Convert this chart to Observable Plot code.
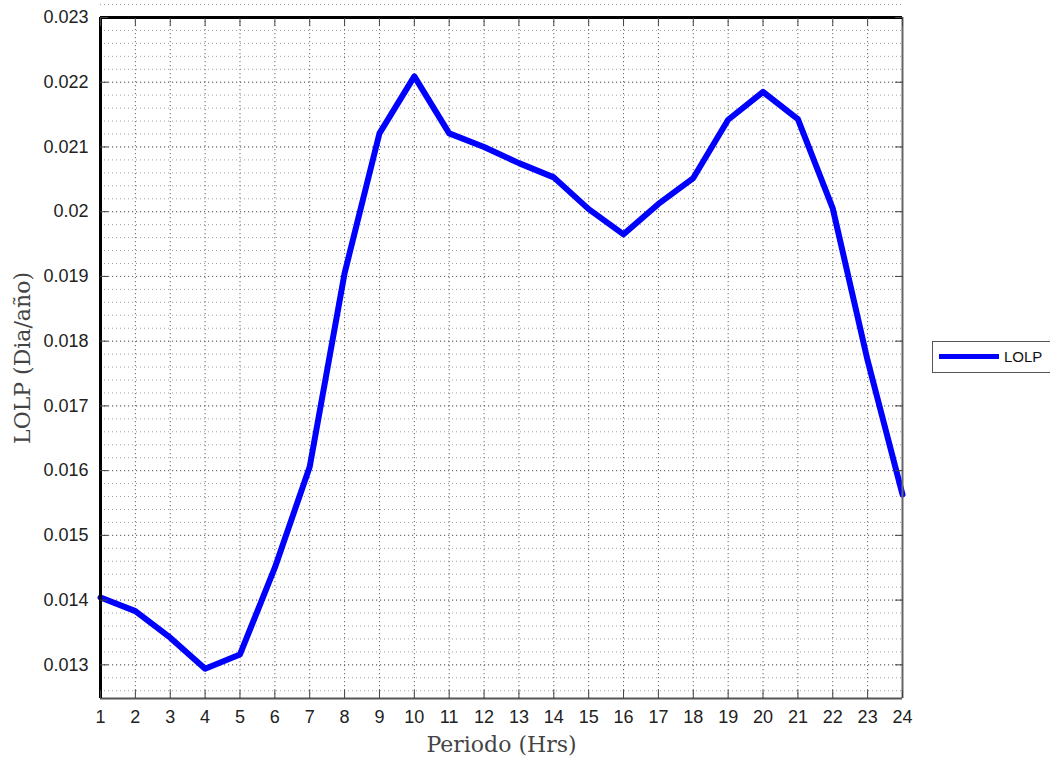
<!DOCTYPE html>
<html>
<head>
<meta charset="utf-8">
<script src="https://cdn.jsdelivr.net/npm/d3@7"></script>
<script src="https://cdn.jsdelivr.net/npm/@observablehq/plot@0.6"></script>
<style>
  html, body { margin: 0; padding: 0; background: #fff; overflow: hidden; }
  #wrap { position: relative; width: 1050px; height: 767px; }
  #legend {
    position: absolute; left: 932px; top: 341px; width: 140px; height: 32px;
    border: 1px solid #555; background: #fff; box-sizing: border-box;
    font-family: "Liberation Sans", Arial, sans-serif; font-size: 15px; color: #111;
  }
  #legend .swatch { position: absolute; left: 6px; top: 12px; width: 60px; height: 5px; background: #0000ff; }
  #legend .lbl { position: absolute; left: 71px; top: 6px; }
</style>
</head>
<body>
<div id="wrap">
  <div id="chart"></div>
  <div id="legend"><span class="swatch"></span><span class="lbl">LOLP</span></div>
</div>
<script>
// Hourly loss-of-load probability
const hours = [1, 2, 3, 4, 5, 6, 7, 8, 9, 10, 11, 12, 13, 14, 15, 16, 17, 18, 19, 20, 21, 22, 23, 24];
const lolp = [0.01404, 0.01383, 0.01342, 0.01294, 0.01316, 0.01450, 0.01606, 0.01905,
              0.02121, 0.02209, 0.02121, 0.02100, 0.02075, 0.02053, 0.02004, 0.01965,
              0.02012, 0.02052, 0.02142, 0.02185, 0.02143, 0.02005, 0.01770, 0.01563];
const yTicks = [0.013, 0.014, 0.015, 0.016, 0.017, 0.018, 0.019, 0.020, 0.021, 0.022, 0.023];
const yMinor = d3.range(0, 54).map(i => +(0.0126 + i * 0.0002).toFixed(4));
const yDomain = [0.01248, 0.023];

const data = hours.map((h, i) => ({hour: h, lolp: lolp[i]}));
const fmt = d => String(+d.toFixed(3));
const blank = () => "";

const tickFont = {fontFamily: "'Liberation Sans', Arial, sans-serif", fontSize: 18};
const titleFont = {fontFamily: "'DejaVu Serif', 'Liberation Serif', serif", fontSize: 22, fill: "#444", textAnchor: "middle"};

const chart = Plot.plot({
  width: 1050,
  height: 767,
  marginLeft: 100,
  marginRight: 148,
  marginTop: 17,
  marginBottom: 69,
  style: {fontFamily: "'Liberation Sans', Arial, sans-serif", fontSize: "18px", color: "#222", background: "#fff"},
  x: {domain: [1, 24]},
  y: {domain: yDomain},
  marks: [
    // dotted grid: minor horizontal, then major lines
    Plot.ruleY(yMinor, {stroke: "#a0a0a0", strokeWidth: 1, strokeDasharray: "1,3"}),
    Plot.ruleY(yTicks, {stroke: "#666", strokeWidth: 1, strokeDasharray: "1.2,2.8"}),
    Plot.ruleX(hours, {stroke: "#666", strokeWidth: 1, strokeDasharray: "1.2,2.8"}),
    // series
    Plot.lineY(data, {x: "hour", y: "lolp", stroke: "#0000ff", strokeWidth: 6, strokeLinejoin: "round"}),
    // box
    Plot.ruleX([24], {stroke: "#666", strokeWidth: 2}),
    Plot.ruleY([yDomain[0]], {stroke: "#555", strokeWidth: 2}),
    Plot.ruleX([1], {stroke: "#000", strokeWidth: 3}),
    Plot.ruleY([yDomain[1]], {stroke: "#000", strokeWidth: 3}),
    // inward ticks on all four sides; labels only bottom and left
    Plot.axisX(hours, {anchor: "bottom", tickSize: -8, tickPadding: 20, tickFormat: d => d, label: null, stroke: "#444", ...tickFont}),
    Plot.axisX(hours, {anchor: "top", tickSize: -8, tickFormat: blank, label: null, stroke: "#444"}),
    Plot.axisY(yTicks, {anchor: "left", tickSize: -8, tickPadding: 20, tickFormat: fmt, label: null, stroke: "#444", ...tickFont}),
    Plot.axisY(yTicks, {anchor: "right", tickSize: -8, tickFormat: blank, label: null, stroke: "#444"}),
    // axis titles
    Plot.text(["Periodo (Hrs)"], {frameAnchor: "bottom", dy: 53, ...titleFont}),
    Plot.text(["LOLP (Dia/año)"], {frameAnchor: "left", dx: -78, rotate: -90, ...titleFont})
  ]
});
document.getElementById("chart").appendChild(chart);
</script>
</body>
</html>
